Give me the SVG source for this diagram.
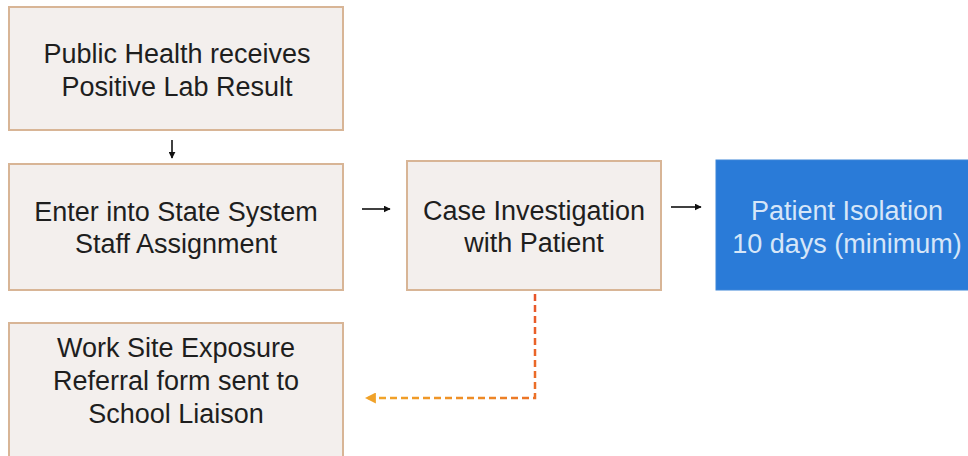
<svg xmlns="http://www.w3.org/2000/svg" width="968" height="456" viewBox="0 0 968 456">
<style>
.box{fill:#f3efed;stroke:#d8b596;stroke-width:2}
.blue{fill:#2a7bd8;stroke:#3d86d8;stroke-width:1}
.t{font-family:"Liberation Sans",Arial,sans-serif;font-size:27px;fill:#1e1e1e;text-anchor:middle}
.tw{font-family:"Liberation Sans",Arial,sans-serif;font-size:27px;fill:#d6e6f8;text-anchor:middle}
.arr{stroke:#111;stroke-width:1.6;fill:none}
</style>
<defs>
<marker id="ah" viewBox="0 0 10 10" refX="9" refY="5" markerWidth="7" markerHeight="7" orient="auto" markerUnits="userSpaceOnUse"><path d="M0,0 L10,5 L0,10 z" fill="#111"/></marker>
<marker id="ah2" viewBox="0 0 10 10" refX="9" refY="5" markerWidth="11" markerHeight="11" orient="auto" markerUnits="userSpaceOnUse"><path d="M0,0 L10,5 L0,10 z" fill="#f0a22a"/></marker>
<linearGradient id="dg" gradientUnits="userSpaceOnUse" x1="535" y1="295" x2="365" y2="398"><stop offset="0" stop-color="#e8552a"/><stop offset="0.5" stop-color="#ee8a25"/><stop offset="1" stop-color="#f2a82a"/></linearGradient>
</defs>
<rect width="968" height="456" fill="#ffffff"/>
<g id="connectors">
<line class="arr" x1="172" y1="140" x2="172" y2="158" marker-end="url(#ah)"/>
<line class="arr" x1="362" y1="209" x2="390" y2="209" marker-end="url(#ah)"/>
<line class="arr" x1="671" y1="207" x2="701" y2="207" marker-end="url(#ah)"/>
<path d="M535,294 L535,398 L366,398" fill="none" stroke="url(#dg)" stroke-width="2.5" stroke-dasharray="7,4" marker-end="url(#ah2)"/>
</g>
<g id="n1">
<rect class="box" x="9" y="7" width="334" height="123"/>
<text class="t" x="177" y="63">Public Health receives</text>
<text class="t" x="177" y="96">Positive Lab Result</text>
</g>
<g id="n2">
<rect class="box" x="9" y="164" width="334" height="126"/>
<text class="t" x="176" y="221">Enter into State System</text>
<text class="t" x="176" y="253">Staff Assignment</text>
</g>
<g id="n3">
<rect class="box" x="407" y="161" width="254" height="129"/>
<text class="t" x="534" y="220">Case Investigation</text>
<text class="t" x="534" y="252">with Patient</text>
</g>
<g id="n4">
<rect class="blue" x="716" y="160" width="260" height="130"/>
<text class="tw" x="847" y="220">Patient Isolation</text>
<text class="tw" x="847" y="253">10 days (minimum)</text>
</g>
<g id="n5">
<rect class="box" x="9" y="323" width="334" height="140"/>
<text class="t" x="176" y="357">Work Site Exposure</text>
<text class="t" x="176" y="390">Referral form sent to</text>
<text class="t" x="176" y="423">School Liaison</text>
</g>
</svg>
